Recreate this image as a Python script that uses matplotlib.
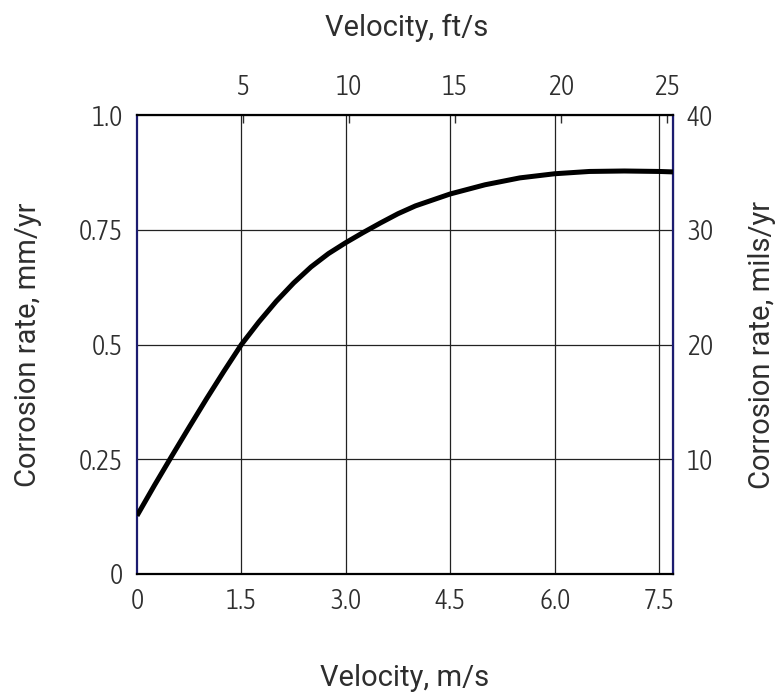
import matplotlib
matplotlib.use("Agg")
import matplotlib.pyplot as plt
from matplotlib import font_manager as fm

# Data
velocity_ms = [0.0, 0.25, 0.5, 0.75, 1.0, 1.25, 1.5, 1.75, 2.0, 2.25, 2.5, 2.75,
               3.0, 3.25, 3.5, 3.75, 4.0, 4.5, 5.0, 5.5, 6.0, 6.5, 7.0, 7.5, 7.7]
corrosion_mmyr = [0.127, 0.193, 0.257, 0.320, 0.382, 0.442, 0.500, 0.549, 0.594,
                  0.634, 0.669, 0.698, 0.722, 0.744, 0.765, 0.785, 0.802, 0.828,
                  0.848, 0.863, 0.872, 0.877, 0.878, 0.877, 0.876]

bottom_ticks = [0, 1.5, 3.0, 4.5, 6.0, 7.5]
bottom_labels = ["0", "1.5", "3.0", "4.5", "6.0", "7.5"]
left_ticks = [0, 0.25, 0.5, 0.75, 1.0]
left_labels = ["0", "0.25", "0.5", "0.75", "1.0"]
top_ticks_fts = [5, 10, 15, 20, 25]
right_ticks_mils = [10, 20, 30, 40]

FT_PER_M = 3.28084
MILS_PER_MM = 40.0

# choose a condensed font (preferably light) for tick labels
flist = fm.fontManager.ttflist
cond = [f for f in flist
        if f.stretch in ("condensed", "semi-condensed", "extra-condensed", 75, 87, 62)
        and f.style == "normal"]
def wnum(w):
    table = {"light": 300, "normal": 400, "regular": 400, "book": 400, "medium": 500,
             "semibold": 600, "bold": 700, "ultralight": 200, "thin": 100}
    return w if isinstance(w, (int, float)) else table.get(str(w).lower(), 400)
cond.sort(key=lambda f: abs(wnum(f.weight) - 330))
if cond:
    tick_fp = fm.FontProperties(fname=cond[0].fname, size=20)
else:
    tick_fp = fm.FontProperties(family="Roboto", weight="light", size=18)

label_fp = fm.FontProperties(family="Roboto", weight="normal", size=21)
TXT = "#2e2e2e"

fig = plt.figure(figsize=(7.77, 6.92), dpi=100)
ax = fig.add_axes([137/777, 1-574/692, (673-137)/777, (574-115)/692])

ax.set_xlim(0, 7.7)
ax.set_ylim(0, 1.0)

# grid
for v in bottom_ticks[1:]:
    ax.axvline(v, color="#222222", lw=0.9, zorder=1)
for r in left_ticks[1:-1]:
    ax.axhline(r, color="#222222", lw=0.9, zorder=1)

ax.plot(velocity_ms, corrosion_mmyr, color="black", lw=3.6,
        solid_capstyle="butt", zorder=3)

ax.set_xticks(bottom_ticks)
ax.set_xticklabels(bottom_labels, fontproperties=tick_fp)
ax.set_yticks(left_ticks)
ax.set_yticklabels(left_labels, fontproperties=tick_fp)
ax.tick_params(axis="both", length=0, pad=10, colors=TXT)

for s in ax.spines.values():
    s.set_linewidth(1.6)
    s.set_color("black")
ax.spines["left"].set_color("#1c1c70")
ax.spines["right"].set_color("#1c1c70")

secx = ax.secondary_xaxis("top", functions=(lambda v: v*FT_PER_M, lambda f: f/FT_PER_M))
secx.set_xticks(top_ticks_fts)
secx.set_xticklabels([str(t) for t in top_ticks_fts], fontproperties=tick_fp)
secx.tick_params(direction="in", length=6, width=1.0, pad=10, colors=TXT)

secy = ax.secondary_yaxis("right", functions=(lambda r: r*MILS_PER_MM, lambda m: m/MILS_PER_MM))
secy.set_yticks(right_ticks_mils)
secy.set_yticklabels([str(t) for t in right_ticks_mils], fontproperties=tick_fp)
secy.tick_params(length=0, pad=10, colors=TXT)

fig.text(407/777, 1-28/692, "Velocity, ft/s", ha="center", va="center",
         fontproperties=label_fp, color=TXT)
fig.text(405/777, 1-678/692, "Velocity, m/s", ha="center", va="center",
         fontproperties=label_fp, color=TXT)
fig.text(28/777, 1-345/692, "Corrosion rate, mm/yr", ha="center", va="center",
         rotation=90, fontproperties=label_fp, color=TXT)
fig.text(762/777, 1-345/692, "Corrosion rate, mils/yr", ha="center", va="center",
         rotation=90, fontproperties=label_fp, color=TXT)

fig.savefig("out.png", dpi=100, facecolor="white")
